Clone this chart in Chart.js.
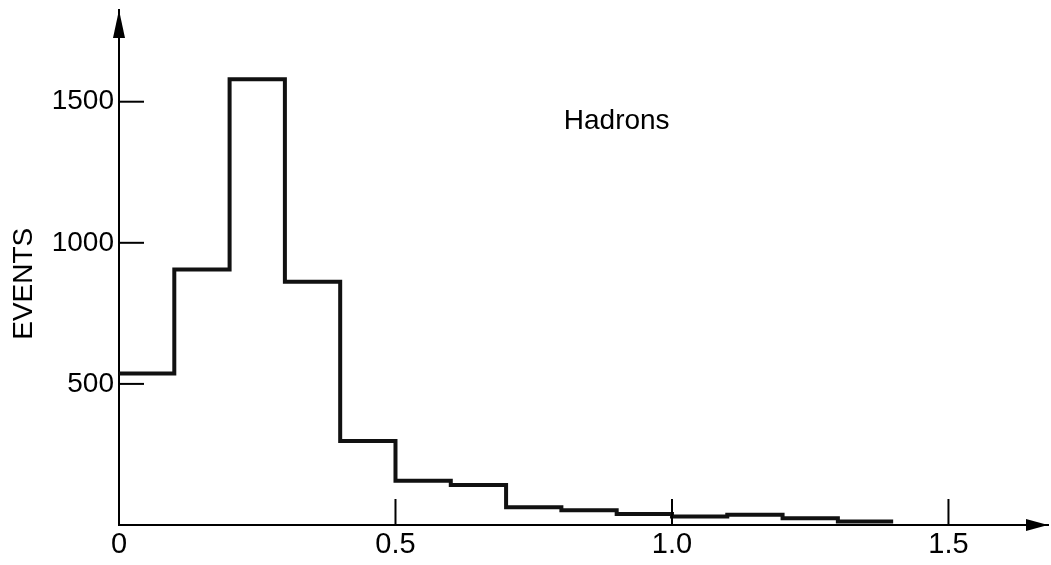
<!DOCTYPE html>
<html>
<head>
<meta charset="utf-8">
<script src="https://cdn.jsdelivr.net/npm/chart.js@4.4.1/dist/chart.umd.min.js"></script>
<style>
  html, body { margin: 0; padding: 0; background: #fff; }
  #wrap { width: 1051px; height: 565px; position: relative; }
</style>
</head>
<body>
<div id="wrap"><canvas id="c"></canvas></div>
<script>
// ---- data ----
const binEdges = [0.0, 0.1, 0.2, 0.3, 0.4, 0.5, 0.6, 0.7, 0.8, 0.9, 1.0, 1.1, 1.2, 1.3, 1.4];
const eventCounts = [537, 905, 1580, 862, 298, 157, 142, 63, 52, 39, 30, 36, 24, 12];
const xTickValues = [0, 0.5, 1.0, 1.5];
const xTickLabels = ["0", "0.5", "1.0", "1.5"];
const yTickValues = [500, 1000, 1500];
const yTickLabels = ["500", "1000", "1500"];
const yAxisTitle = "EVENTS";
const annotationText = "Hadrons";
const annotationPos = { x: 0.9, y: 1430 };
const yTitlePos = { y: 855 };

const FONT = "'Liberation Sans', Arial, sans-serif";

// step points: left edge of each bin, plus the right edge of the last bin
const points = eventCounts.map((v, i) => ({ x: binEdges[i], y: v }));
points.push({ x: binEdges[binEdges.length - 1], y: eventCounts[eventCounts.length - 1] });

const decorPlugin = {
  id: 'decor',
  afterDraw(chart) {
    const ctx = chart.ctx;
    const xs = chart.scales.x, ys = chart.scales.y;
    const ca = chart.chartArea;
    const x0 = xs.getPixelForValue(0);
    const y0 = ys.getPixelForValue(0);
    ctx.save();
    ctx.strokeStyle = '#000';
    ctx.fillStyle = '#000';
    ctx.lineWidth = 2;
    // inward tick marks on y axis
    yTickValues.forEach(v => {
      const py = ys.getPixelForValue(v);
      ctx.beginPath(); ctx.moveTo(x0, py); ctx.lineTo(x0 + 25, py); ctx.stroke();
    });
    // upward tick marks on x axis (not at origin)
    xTickValues.forEach(v => {
      if (v === 0) return;
      const px = xs.getPixelForValue(v);
      ctx.beginPath(); ctx.moveTo(px, y0); ctx.lineTo(px, y0 - 26); ctx.stroke();
    });
    // arrowheads
    ctx.beginPath();
    ctx.moveTo(x0, ca.top); ctx.lineTo(x0 - 6, ca.top + 28); ctx.lineTo(x0 + 6, ca.top + 28); ctx.closePath(); ctx.fill();
    ctx.beginPath();
    ctx.moveTo(ca.right, y0); ctx.lineTo(ca.right - 22, y0 - 6); ctx.lineTo(ca.right - 22, y0 + 6); ctx.closePath(); ctx.fill();
    // annotation text
    ctx.font = '28px ' + FONT;
    ctx.textAlign = 'center';
    ctx.textBaseline = 'middle';
    ctx.fillText(annotationText, xs.getPixelForValue(annotationPos.x), ys.getPixelForValue(annotationPos.y));
    // y axis title
    ctx.translate(24, ys.getPixelForValue(yTitlePos.y));
    ctx.rotate(-Math.PI / 2);
    ctx.fillText(yAxisTitle, 0, 0);
    ctx.restore();
  }
};

new Chart(document.getElementById('c'), {
  type: 'scatter',
  data: {
    datasets: [{
      data: points,
      showLine: true,
      stepped: 'before',
      borderColor: '#111',
      borderWidth: 4,
      pointRadius: 0,
      pointHoverRadius: 0,
      fill: false,
      tension: 0
    }]
  },
  options: {
    responsive: true,
    maintainAspectRatio: false,
    animation: false,
    events: [],
    layout: { padding: { left: 0, right: 3, top: 10, bottom: 0 } },
    plugins: { legend: { display: false }, tooltip: { enabled: false }, title: { display: false } },
    scales: {
      x: {
        type: 'linear',
        min: 0,
        max: 1.68,
        afterFit(scale) { scale.height = 40; scale.paddingLeft = 0; scale.paddingRight = 0; },
        afterBuildTicks(scale) { scale.ticks = xTickValues.map(v => ({ value: v })); },
        grid: { display: false, drawTicks: false },
        border: { display: true, color: '#000', width: 2 },
        ticks: {
          padding: 3,
          color: '#000',
          font: { family: FONT, size: 29 },
          maxRotation: 0,
          autoSkip: false,
          callback(value) { const i = xTickValues.indexOf(value); return i >= 0 ? xTickLabels[i] : ''; }
        }
      },
      y: {
        type: 'linear',
        min: 0,
        max: 1825,
        afterFit(scale) { scale.width = 119; scale.paddingTop = 0; scale.paddingBottom = 0; },
        afterBuildTicks(scale) { scale.ticks = yTickValues.map(v => ({ value: v })); },
        grid: { display: false, drawTicks: false },
        border: { display: true, color: '#000', width: 2 },
        ticks: {
          padding: 5,
          color: '#000',
          font: { family: FONT, size: 28 },
          autoSkip: false,
          callback(value) { const i = yTickValues.indexOf(value); return i >= 0 ? yTickLabels[i] : ''; }
        }
      }
    }
  },
  plugins: [decorPlugin]
});
</script>
</body>
</html>
